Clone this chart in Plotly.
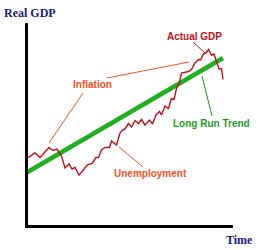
import plotly.graph_objects as go

# Coordinates (time, real GDP)
gdp_px_x = [26,31,35,40,45,49,53,57,61.5,65,69,72,75,79,83,87,92,96,98.5,101.5,105,109.5,111.5,116.5,
            120,122.5,125,128.5,131.5,135,138.5,141.5,145,149.5,152.5,156,159.5,161.5,165,168.5,171.5,
            174,176.5,179.5,181.5,185,188.5,191.5,195,198.5,200.5,203.5,206.5,208.5,211.5,214,216.5,
            219,221.5,223]
gdp_px_y = [159,156,153,157.5,151.5,147.5,150.5,149,156,168,164,169,167.5,175,170.5,165,163.5,157.5,
            157.5,150,147.5,147.5,141,145,133,130,129,123.5,127,120.5,123.5,119.5,125,120,124,115,111.5,
            115,106,108.5,98.5,99.5,88.5,82,73,72.5,71.5,69.5,63,59.5,60,54,52.5,49.5,55,54,61.5,69,68.5,79.5]

X0, Y0 = 27.5, 224.5

time = [x - X0 for x in gdp_px_x]
actual_gdp = [Y0 - y for y in gdp_px_y]

trend_px_x = [26, 223]
trend_px_y = [173, 58]
trend_time = [x - X0 for x in trend_px_x]
trend_gdp = [Y0 - y for y in trend_px_y]

def X(px):
    return px - X0

def Y(py):
    return Y0 - py

W, H = 260, 250
fig = go.Figure()

fig.add_trace(go.Scatter(x=trend_time, y=trend_gdp, mode="lines",
                         line=dict(color="#1fb01f", width=4.5), hoverinfo="skip", cliponaxis=False))
fig.add_trace(go.Scatter(x=time, y=actual_gdp, mode="lines",
                         line=dict(color="#c0101a", width=1.4), hoverinfo="skip", cliponaxis=False))

orange = "#f5501e"
pointers = [
    ((107, 78), (189, 62), orange),
    ((49, 143), (83, 93), orange),
    ((119, 147), (143, 167), orange),
    ((193, 42), (205, 53), "#c0101a"),
    ((202, 76), (212, 116), "#179417"),
]
for (x0, y0), (x1, y1), c in pointers:
    fig.add_shape(type="line", xref="x", yref="y", x0=X(x0), y0=Y(y0), x1=X(x1), y1=Y(y1),
                  line=dict(color=c, width=1))

labels = [
    ("Real GDP", 30, 12.5, "#1a1a80", "Liberation Serif", 12),
    ("Time", 239, 240, "#1a1a80", "Liberation Serif", 12),
    ("Actual GDP", 194.5, 36, "#c0101a", "Liberation Sans", 10),
    ("Inflation", 92, 84, orange, "Liberation Sans", 10),
    ("Unemployment", 150.5, 173.5, orange, "Liberation Sans", 10),
    ("Long Run Trend", 211, 123, "#1a9e1a", "Liberation Sans", 10),
]
for t, px, py, c, fam, sz in labels:
    fig.add_annotation(text="<b>%s</b>" % t, xref="paper", yref="paper",
                       x=px / W, y=1 - py / H, xanchor="center", yanchor="middle",
                       showarrow=False, font=dict(family=fam, size=sz, color=c))

fig.update_layout(
    width=W, height=H, margin=dict(l=0, r=0, t=0, b=0),
    paper_bgcolor="white", plot_bgcolor="white", showlegend=False,
    xaxis=dict(domain=[X0 / W, 233 / W], range=[0, 233 - X0], showgrid=False, zeroline=False,
               showticklabels=False, ticks="", showline=True, linecolor="black", linewidth=3),
    yaxis=dict(domain=[(H - Y0) / H, 227 / H], range=[0, 227 - (H - Y0)], showgrid=False, zeroline=False,
               showticklabels=False, ticks="", showline=True, linecolor="black", linewidth=3),
)

fig.write_html("out.html")
